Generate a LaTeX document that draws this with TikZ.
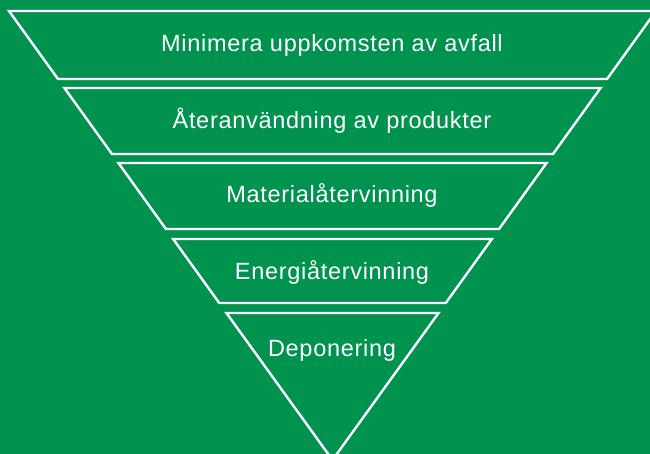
\documentclass[tikz,border=0pt]{standalone}
\usepackage{fontspec}
\setmainfont{Liberation Sans}[LetterSpace=3]
\definecolor{bggreen}{RGB}{0,146,79}
\begin{document}
\begin{tikzpicture}[x=1pt,y=-1pt,
  level/.style={draw=white,line width=2.4pt,line join=miter},
  lbl/.style={text=white,font=\fontsize{23.5}{28}\selectfont,anchor=base,inner sep=0pt}]
\fill[bggreen] (0,0) rectangle (650,454);
\useasboundingbox (0,0) rectangle (650,454);
\begin{scope}
\clip (0,0) rectangle (650,454);
\foreach \t/\b in {11/79, 88/154, 163/229, 239/303}{
  \draw[level] ({9+0.72*(\t-11)},\t) -- ({656-0.72*(\t-11)},\t)
    -- ({656-0.72*(\b-11)},\b) -- ({9+0.72*(\b-11)},\b) -- cycle;
}
\draw[level] ({9+0.72*(313-11)},313) -- ({656-0.72*(313-11)},313)
  -- (332.5,460) -- cycle;
\end{scope}
\node[lbl] (l1) at (332,52) {Minimera uppkomsten av avfall};
\node[lbl] (l2) at (332,128.5) {Återanvändning av produkter};
\node[lbl] (l3) at (332,203) {Materialåtervinning};
\node[lbl] (l4) at (332,279) {Energiåtervinning};
\node[lbl] (l5) at (332,356) {Deponering};
\end{tikzpicture}
\end{document}
